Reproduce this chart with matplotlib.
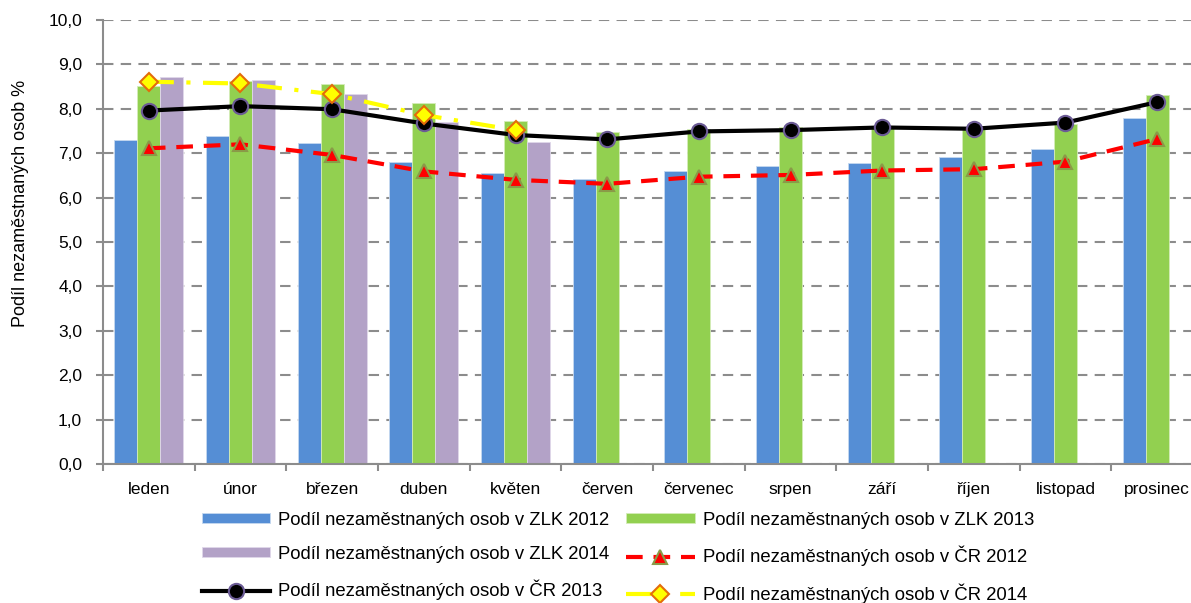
import numpy as np
import matplotlib
matplotlib.use("Agg")
import matplotlib.pyplot as plt
from matplotlib.ticker import FuncFormatter, MultipleLocator, FixedLocator

plt.rcParams['font.family'] = ['Liberation Sans', 'DejaVu Sans']

# data
mesice = ['leden', 'únor', 'březen', 'duben', 'květen', 'červen', 'červenec',
          'srpen', 'září', 'říjen', 'listopad', 'prosinec']
zlk_2012 = [7.30, 7.39, 7.22, 6.81, 6.56, 6.42, 6.60, 6.71, 6.79, 6.91, 7.09, 7.80]
zlk_2013 = [8.51, 8.63, 8.55, 8.14, 7.73, 7.47, 7.54, 7.58, 7.60, 7.57, 7.66, 8.32]
zlk_2014 = [8.72, 8.65, 8.33, 7.71, 7.25, np.nan, np.nan, np.nan, np.nan, np.nan, np.nan, np.nan]
cr_2012 = [7.11, 7.20, 6.96, 6.59, 6.40, 6.31, 6.47, 6.51, 6.61, 6.64, 6.81, 7.32]
cr_2013 = [7.96, 8.06, 7.99, 7.67, 7.41, 7.31, 7.49, 7.52, 7.58, 7.55, 7.69, 8.15]
cr_2014 = [8.61, 8.57, 8.33, 7.86, 7.52, np.nan, np.nan, np.nan, np.nan, np.nan, np.nan, np.nan]

fig = plt.figure(figsize=(11.91, 6.03), dpi=100)
# osa pokracuje za pravy okraj, jako v originalu (orizle)
ax = fig.add_axes([103/1191, 139/603, 1100/1191, 444/603])

x = np.arange(len(mesice))
w = 0.25
b1 = ax.bar(x - w, zlk_2012, w, color='#558ED5', edgecolor='#c5d8f0', linewidth=0.6, zorder=2,
            label='Podíl nezaměstnaných osob v ZLK 2012')
b2 = ax.bar(x, zlk_2013, w, color='#92D050', edgecolor='#d4ecb8', linewidth=0.6, zorder=2,
            label='Podíl nezaměstnaných osob v ZLK 2013')
b3 = ax.bar(x + w, zlk_2014, w, color='#B3A2C7', edgecolor='#e0d8ea', linewidth=0.6, zorder=2,
            label='Podíl nezaměstnaných osob v ZLK 2014')

l1, = ax.plot(x, cr_2012, color='#FF0000', lw=3, dashes=(4, 2.6), marker='^', markersize=10,
              markerfacecolor='#FF0000', markeredgecolor='#8a9a48', markeredgewidth=1.5, zorder=3,
              label='Podíl nezaměstnaných osob v ČR 2012')
l2, = ax.plot(x, cr_2013, color='black', lw=3, marker='o', markersize=11,
              markerfacecolor='black', markeredgecolor='#6b5b95', markeredgewidth=1.5, zorder=4,
              label='Podíl nezaměstnaných osob v ČR 2013')
l3, = ax.plot(x, cr_2014, color='#FFFF00', lw=3, dashes=(6, 3, 1, 3), marker='D', markersize=9,
              markerfacecolor='#FFFF00', markeredgecolor='#E46C0A', markeredgewidth=1.5, zorder=5,
              label='Podíl nezaměstnaných osob v ČR 2014')

ax.set_xlim(-0.5, len(mesice) - 0.5)
ax.set_ylim(0, 10)
ax.yaxis.set_major_locator(MultipleLocator(1))
ax.yaxis.set_major_formatter(FuncFormatter(lambda v, p: f'{v:.1f}'.replace('.', ',')))
ax.yaxis.grid(True, color='#8c8c8c', lw=1.5, dashes=(5, 3.5), zorder=0)
ax.set_axisbelow(True)

ax.set_xticks(x)
ax.set_xticklabels(mesice, fontsize=12.5)
ax.xaxis.set_minor_locator(FixedLocator(np.arange(-0.5, len(mesice), 1)))
ax.tick_params(axis='x', which='major', length=0, pad=13)
ax.tick_params(axis='x', which='minor', length=5, width=1.5, color='#8c8c8c')
ax.tick_params(axis='y', length=5, width=1.5, color='#8c8c8c', labelsize=12.5, pad=10)

for s in ['top', 'right']:
    ax.spines[s].set_visible(False)
for s in ['left', 'bottom']:
    ax.spines[s].set_color('#8c8c8c')
    ax.spines[s].set_linewidth(1.5)

fig.text(21/1191, 1 - 203/603, 'Podíl nezaměstnaných osob %', rotation=90,
         ha='center', va='center', fontsize=13)

handles = [b1, b3, l2, b2, l1, l3]
labels = [h.get_label() for h in handles]
fig.legend(handles, labels, ncol=2, loc='center', bbox_to_anchor=(618/1191, 1 - 558/603),
           frameon=False, fontsize=13.3, handlelength=3.7, handleheight=0.45,
           handletextpad=0.45, columnspacing=0.9, labelspacing=0.92)

fig.savefig('out.png', dpi=100)
